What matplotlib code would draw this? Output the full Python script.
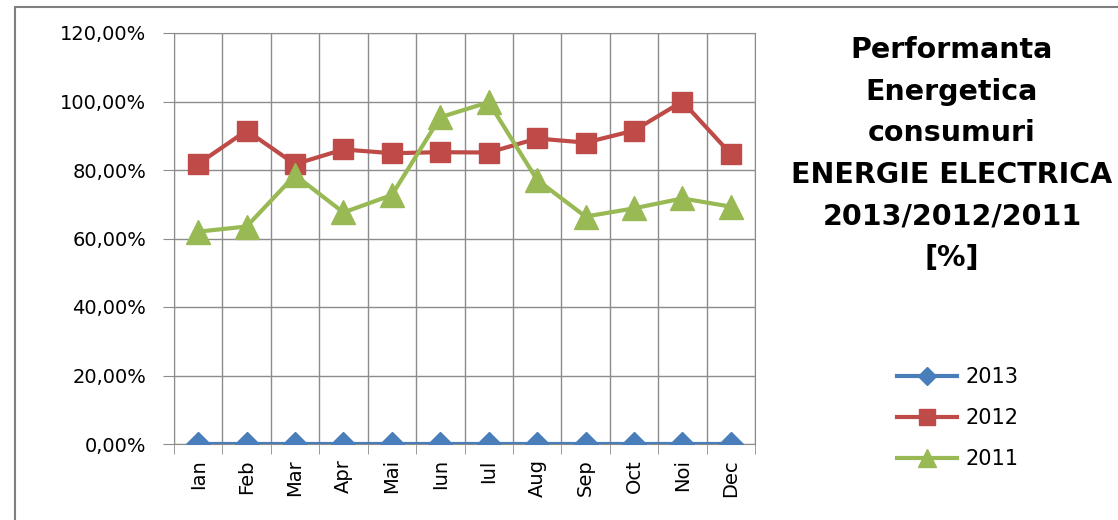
import matplotlib.pyplot as plt
from matplotlib.patches import Rectangle
from matplotlib.ticker import FuncFormatter, MultipleLocator
from matplotlib.lines import Line2D

months = ['Ian', 'Feb', 'Mar', 'Apr', 'Mai', 'Iun', 'Iul', 'Aug', 'Sep', 'Oct', 'Noi', 'Dec']
vals_2013 = [0, 0, 0, 0, 0, 0, 0, 0, 0, 0, 0, 0]
vals_2012 = [81.8, 91.5, 81.7, 86.0, 84.9, 85.2, 85.1, 89.2, 88.0, 91.5, 100.0, 84.7]
vals_2011 = [62.0, 63.5, 78.5, 67.6, 72.7, 95.4, 99.8, 77.1, 66.4, 68.8, 71.7, 69.3]

blue = '#4A7EBB'
red = '#BE4B48'
green = '#98B954'
grid_c = '#8C8C8C'

fig = plt.figure(figsize=(11.18, 5.2), dpi=100)
ax = fig.add_axes([174/1118, 76/520, (755-174)/1118, (444-33)/520])

# outer chart frame
fig.patches.append(Rectangle((15/1118, -0.02), 1.1, 1 - 7/520 + 0.02, transform=fig.transFigure,
                             fill=False, edgecolor='#7F7F7F', linewidth=1.5))

x = list(range(len(months)))
ax.plot(x, vals_2013, color=blue, lw=3, marker='D', ms=12, label='2013', zorder=3)
ax.plot(x, vals_2012, color=red, lw=3, marker='s', ms=15, label='2012', zorder=4)
ax.plot(x, vals_2011, color=green, lw=3, marker='^', ms=17, label='2011', zorder=5)

ax.set_xlim(-0.5, 11.5)
ax.set_ylim(0, 120)
ax.yaxis.set_major_locator(MultipleLocator(20))
ax.yaxis.set_major_formatter(FuncFormatter(lambda v, p: f'{v:.2f}%'.replace('.', ',')))
ax.set_xticks(x)
ax.set_xticklabels(months, rotation=90, fontsize=14)
ax.set_xticks([i - 0.5 for i in range(13)], minor=True)
ax.tick_params(axis='x', which='major', length=0, pad=11)
ax.tick_params(axis='x', which='minor', length=7, color=grid_c)
ax.tick_params(axis='y', length=8, color=grid_c, labelsize=14, pad=12)
ax.grid(True, which='minor', axis='x', color=grid_c, lw=1)
ax.grid(True, which='major', axis='y', color=grid_c, lw=1)
for s in ax.spines.values():
    s.set_color(grid_c)

fig.text(952/1118, 1 - 36/520,
         'Performanta\nEnergetica\nconsumuri\nENERGIE ELECTRICA\n2013/2012/2011\n[%]',
         ha='center', va='top', fontsize=20.5, fontweight='bold', linespacing=1.62)

handles = [Line2D([], [], color=blue, lw=3, marker='D', ms=9),
           Line2D([], [], color=red, lw=3, marker='s', ms=12),
           Line2D([], [], color=green, lw=3, marker='^', ms=13)]
fig.legend(handles, ['2013', '2012', '2011'], loc='center left',
           bbox_to_anchor=(878/1118, 1 - 418/520), frameon=False, fontsize=15,
           handlelength=2.9, labelspacing=1.0, handletextpad=0.4)

fig.savefig('out.png', dpi=100)
